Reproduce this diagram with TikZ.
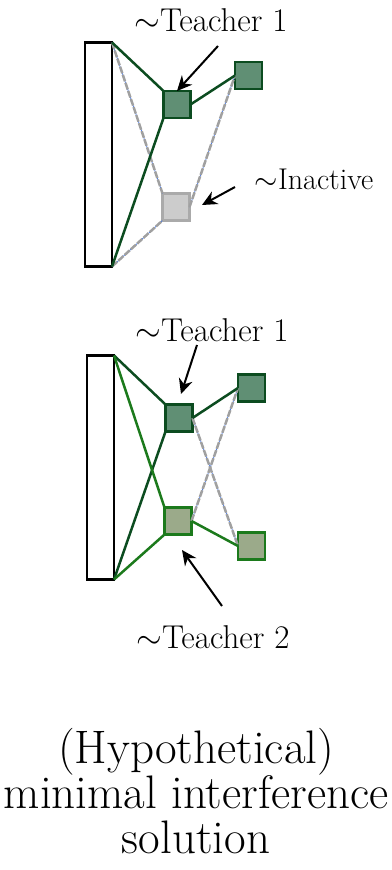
\RequirePackage{fix-cm}
\documentclass[tikz,border=0pt]{standalone}
\usepackage{fontspec}
\usetikzlibrary{arrows.meta}
\definecolor{dkgreen}{RGB}{12,76,32}
\definecolor{dkfill}{RGB}{96,143,116}
\definecolor{ltgreen}{RGB}{28,122,28}
\definecolor{ltfill}{RGB}{155,170,138}
\definecolor{inborder}{RGB}{160,160,160}
\definecolor{infill}{RGB}{204,204,204}
\definecolor{inblue}{RGB}{70,120,230}
\tikzset{
  inputbox/.style={draw=black, line width=2.8pt, fill=white, minimum width=27pt, minimum height=224pt, inner sep=0pt, outer sep=0pt},
  unitbox/.style={line width=2.7pt, minimum size=27pt, inner sep=0pt, outer sep=0pt},
  teacherA/.style={unitbox, draw=dkgreen, fill=dkfill},
  teacherB/.style={unitbox, draw=ltgreen, fill=ltfill},
  inactivebox/.style={unitbox, draw=inborder!90!white, fill=infill},
  edgeA/.style={draw=dkgreen, line width=2.5pt},
  edgeB/.style={draw=ltgreen, line width=2.5pt},
  edgeoffblue/.style={draw=inblue, line width=0.7pt},
  edgeoffgray/.style={draw=inborder, line width=2.5pt, dash pattern=on 7pt off 1.5pt},
  pointer/.style={draw=black, line width=2pt, -{Stealth[length=15pt, width=14pt]}},
  lbl/.style={font=\fontsize{33}{33}\selectfont, inner sep=0pt, anchor=base},
  lblsmall/.style={font=\fontsize{30}{30}\selectfont, inner sep=0pt, anchor=base},
  caption/.style={font=\fontsize{47}{45}\selectfont, align=center, inner sep=0pt, anchor=base}
}
\newcommand{\offedge}[2]{\path[edgeoffblue] #1 -- #2; \path[edgeoffgray] #1 -- #2;}
\begin{document}
\begin{tikzpicture}[x=1pt,y=-1pt]
\useasboundingbox (0,0) rectangle (391,870);
% ---------- top panel ----------
\node[inputbox] (in1) at (98.5,154.5) {};
\node[teacherA] (h1) at (177,104.5) {};
\node[inactivebox] (h2) at (176,207) {};
\node[teacherA] (o1) at (248.5,75.5) {};
\offedge{(in1.north east)}{(h2.north west)}
\offedge{(in1.south east)}{(h2.south west)}
\offedge{(h2.east)}{(o1.west)}
\draw[edgeA] (in1.north east) -- (h1.north west);
\draw[edgeA] (in1.south east) -- (h1.south west);
\draw[edgeA] (h1.east) -- (o1.west);
\node[lbl] (l1) at (211,31) {$\sim$Teacher 1};
\coordinate (l1tail) at (218,46);
\draw[pointer] (l1tail) -- (h1.north);
\node[lblsmall] (l2) at (314,189) {$\sim$Inactive};
\coordinate (l2tail) at (235,187);
\coordinate (l2tip) at (202,205);
\draw[pointer] (l2tail) -- (l2tip);
% ---------- bottom panel ----------
\node[inputbox] (in2) at (100.5,467.5) {};
\node[teacherA] (t1) at (179,418) {};
\node[teacherB] (t2) at (178,521) {};
\node[teacherA] (p1) at (251.5,388) {};
\node[teacherB] (p2) at (251.5,546) {};
\offedge{(t1.east)}{(p2.west)}
\offedge{(t2.east)}{(p1.west)}
\draw[edgeA] (in2.north east) -- (t1.north west);
\draw[edgeA] (in2.south east) -- (t1.south west);
\draw[edgeB] (in2.north east) -- (t2.north west);
\draw[edgeB] (in2.south east) -- (t2.south west);
\draw[edgeA] (t1.east) -- (p1.west);
\draw[edgeB] (t2.east) -- (p2.west);
\node[lbl] (l3) at (212,341) {$\sim$Teacher 1};
\coordinate (l3tail) at (197,345);
\coordinate (l3tip) at (181,394);
\draw[pointer] (l3tail) -- (l3tip);
\node[lbl] (l4) at (213,648) {$\sim$Teacher 2};
\coordinate (l4tail) at (222,606);
\coordinate (l4tip) at (182,550);
\draw[pointer] (l4tail) -- (l4tip);
% ---------- caption ----------
\node[caption] (cap) at (196,853) {(Hypothetical)\\minimal interference\\solution};
\end{tikzpicture}
\end{document}
